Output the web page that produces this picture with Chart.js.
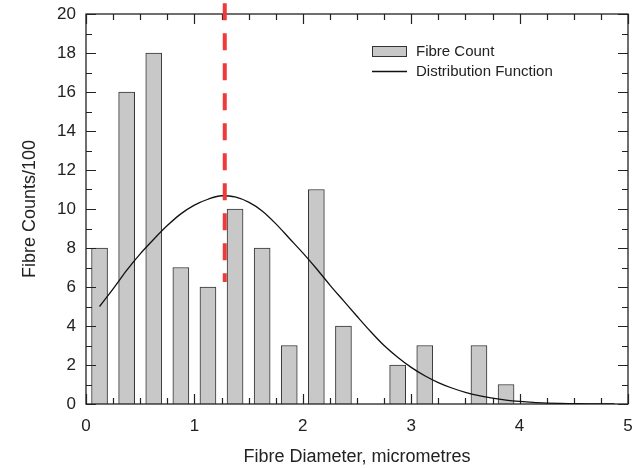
<!DOCTYPE html>
<html>
<head>
<meta charset="utf-8">
<script src="https://cdn.jsdelivr.net/npm/chart.js@4.4.1/dist/chart.umd.min.js"></script>
<style>
  html, body { margin: 0; padding: 0; background: #ffffff; }
  #wrap { width: 633px; height: 468px; }
  canvas { display: block; }
</style>
</head>
<body>
<div id="wrap"><canvas id="c" width="633" height="468"></canvas></div>
<script>
// ---- Data ----
const binCenters = [0.125, 0.375, 0.625, 0.875, 1.125, 1.375, 1.625, 1.875,
                    2.125, 2.375, 2.625, 2.875, 3.125, 3.375, 3.625, 3.875];
const fibreCounts = [8, 16, 18, 7, 6, 10, 8, 3, 11, 4, 0, 2, 3, 0, 3, 1];

const distX = [0.125, 0.25, 0.375, 0.5, 0.625, 0.75, 0.875, 1.0, 1.125, 1.25,
               1.375, 1.5, 1.625, 1.75, 1.875, 2.0, 2.125, 2.25, 2.375, 2.5,
               2.625, 2.75, 2.875, 3.0, 3.125, 3.25, 3.375, 3.5, 3.625, 3.75,
               3.875, 4.0, 4.125, 4.25, 4.375, 4.5, 4.625, 4.75, 4.875];
const distY = [5.0, 5.9, 6.85, 7.7, 8.45, 9.15, 9.75, 10.2, 10.5, 10.68,
               10.62, 10.35, 9.9, 9.25, 8.5, 7.75, 6.95, 6.1, 5.3, 4.5,
               3.72, 3.0, 2.4, 1.88, 1.45, 1.1, 0.82, 0.6, 0.43, 0.3,
               0.2, 0.13, 0.08, 0.05, 0.03, 0.02, 0.01, 0.005, 0.0];

const markerX = [1.28, 1.28];
const markerY = [20.55, 6.26];

const seriesLabels = ['Fibre Count', 'Distribution Function'];
const xTitle = 'Fibre Diameter, micrometres';
const yTitle = 'Fibre Counts/100';

// ---- Chart ----
const FONT = "'Liberation Sans', Arial, Helvetica, sans-serif";
const INK = '#222222';

const framePlugin = {
  id: 'frame',
  afterDatasetDraw(chart, args) {
    if (args.index !== 0) return;
    const { ctx, chartArea: a, scales: { x, y } } = chart;
    ctx.save();
    ctx.strokeStyle = INK;
    ctx.lineWidth = 1.3;
    ctx.strokeRect(a.left, a.top, a.right - a.left, a.bottom - a.top);
    ctx.lineWidth = 1.2;
    ctx.beginPath();
    for (let i = 0; i <= 20; i++) {
      const v = i * 0.25;
      const px = Math.round(x.getPixelForValue(v)) + 0.5;
      const len = (i % 4 === 0) ? 10 : 6;
      ctx.moveTo(px, a.bottom); ctx.lineTo(px, a.bottom - len);
      ctx.moveTo(px, a.top); ctx.lineTo(px, a.top + len);
    }
    for (let j = 0; j <= 20; j++) {
      const py = Math.round(y.getPixelForValue(j)) + 0.5;
      const len = (j % 2 === 0) ? 10 : 6;
      ctx.moveTo(a.left, py); ctx.lineTo(a.left + len, py);
      ctx.moveTo(a.right, py); ctx.lineTo(a.right - len, py);
    }
    ctx.stroke();
    ctx.restore();
  }
};

const legendPlugin = {
  id: 'boxLegend',
  afterDraw(chart) {
    const { ctx, chartArea: a } = chart;
    const ds = chart.data.datasets;
    const x0 = a.left + 286;
    const y0 = a.top + 37;
    ctx.save();
    ctx.font = '15px ' + FONT;
    ctx.textBaseline = 'middle';
    ctx.textAlign = 'left';
    ctx.fillStyle = ds[0].backgroundColor;
    ctx.fillRect(x0, y0 - 5, 35, 10);
    ctx.strokeStyle = ds[0].borderColor;
    ctx.lineWidth = 1;
    ctx.strokeRect(x0 + 0.5, y0 - 4.5, 34, 10);
    ctx.fillStyle = INK;
    ctx.fillText(ds[0].label, x0 + 44, y0 + 1);
    const y1 = y0 + 20;
    ctx.strokeStyle = ds[1].borderColor;
    ctx.lineWidth = 1.3;
    ctx.beginPath();
    ctx.moveTo(x0, y1 + 0.5); ctx.lineTo(x0 + 35, y1 + 0.5);
    ctx.stroke();
    ctx.fillStyle = INK;
    ctx.fillText(ds[1].label, x0 + 44, y1 + 1);
    ctx.restore();
  }
};

const bgPlugin = {
  id: 'bg',
  beforeDraw(chart) {
    const { ctx } = chart;
    ctx.save();
    ctx.fillStyle = '#ffffff';
    ctx.fillRect(0, 0, chart.width, chart.height);
    ctx.restore();
  }
};

new Chart(document.getElementById('c'), {
  type: 'bar',
  data: {
    datasets: [
      {
        type: 'bar',
        label: seriesLabels[0],
        data: binCenters.map((c, i) => ({ x: c, y: fibreCounts[i] })),
        backgroundColor: '#c8c8c9',
        borderColor: '#333333',
        borderWidth: 1,
        barThickness: 16,
        order: 3
      },
      {
        type: 'line',
        label: seriesLabels[1],
        data: distX.map((v, i) => ({ x: v, y: distY[i] })),
        borderColor: '#111111',
        borderWidth: 1.3,
        pointRadius: 0,
        cubicInterpolationMode: 'monotone',
        fill: false,
        order: 2
      },
      {
        type: 'line',
        label: 'marker',
        data: markerX.map((v, i) => ({ x: v, y: markerY[i] })),
        borderColor: '#f03a3a',
        borderWidth: 4,
        borderDash: [17, 13],
        borderCapStyle: 'butt',
        pointRadius: 0,
        clip: false,
        fill: false,
        order: 1
      }
    ]
  },
  options: {
    responsive: false,
    devicePixelRatio: 1,
    animation: false,
    layout: { padding: { top: 14, right: 5, left: 0, bottom: 0 } },
    plugins: {
      legend: { display: false },
      tooltip: { enabled: false }
    },
    scales: {
      x: {
        type: 'linear',
        min: 0,
        max: 5,
        offset: false,
        grid: { display: false, drawTicks: false },
        border: { display: false },
        ticks: {
          stepSize: 1,
          padding: 12,
          color: INK,
          font: { family: FONT, size: 17 },
          maxRotation: 0
        },
        title: {
          display: true,
          text: xTitle,
          color: INK,
          font: { family: FONT, size: 18 },
          padding: { top: 0, bottom: 0 }
        },
        afterFit(scale) {
          scale.height = 64;
          scale.paddingLeft = 0; scale.paddingRight = 0;
          scale.paddingTop = 0; scale.paddingBottom = 0;
        }
      },
      y: {
        type: 'linear',
        min: 0,
        max: 20,
        grid: { display: false, drawTicks: false },
        border: { display: false },
        ticks: {
          stepSize: 2,
          padding: 10,
          color: INK,
          font: { family: FONT, size: 17 }
        },
        title: {
          display: true,
          text: yTitle,
          color: INK,
          font: { family: FONT, size: 18 },
          padding: { top: 19, bottom: 0 }
        },
        afterFit(scale) {
          scale.width = 86;
          scale.paddingLeft = 0; scale.paddingRight = 0;
          scale.paddingTop = 0; scale.paddingBottom = 0;
        }
      }
    }
  },
  plugins: [bgPlugin, framePlugin, legendPlugin]
});
</script>
</body>
</html>
